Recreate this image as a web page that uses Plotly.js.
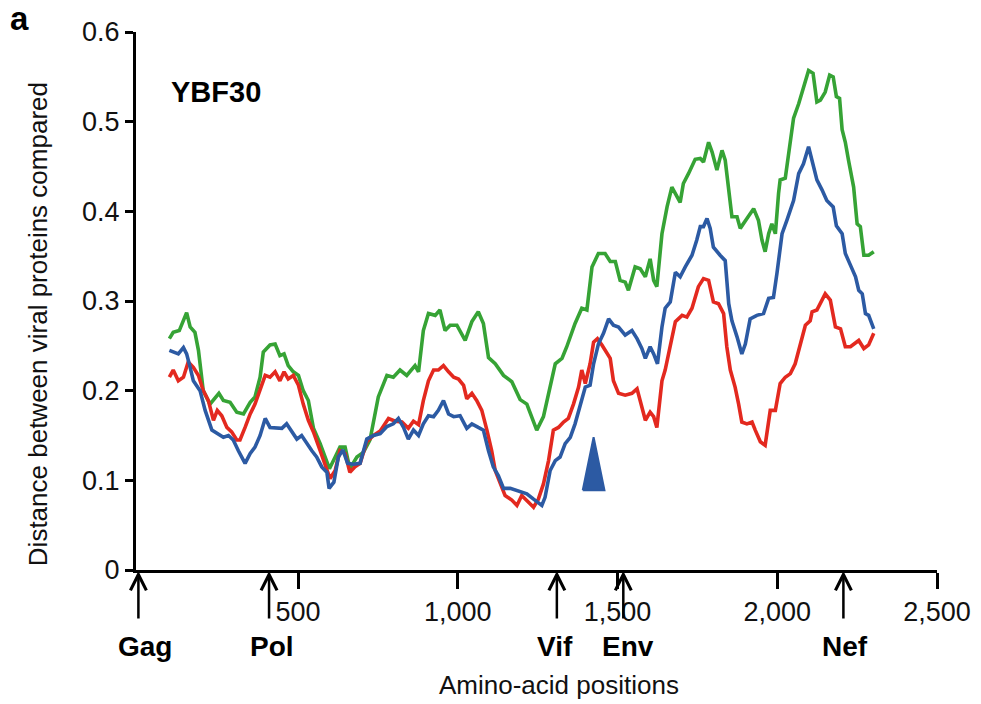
<!DOCTYPE html>
<html>
<head>
<meta charset="utf-8">
<script src="https://cdn.plot.ly/plotly-3.0.1.min.js"></script>
<style>html,body{margin:0;padding:0;background:#fff;}#chart{width:981px;height:704px;}</style>
</head>
<body>
<div id="chart"></div>
<script>
// ---- Data (amino-acid position, distance) ----
const greenX = [97,109,128,151,162,177,188,203,224,252,266,287,308,329,350,365,381,391,412,428,443,456,469,485,501,516,532,548,569,584,598,616,631,647,662,684,704,725,751,778,798,819,840,866,877,892,908,929,944,960,976,997,1023,1044,1064,1080,1096,1117,1143,1169,1195,1216,1232,1247,1268,1289,1305,1326,1341,1367,1388,1404,1420,1440,1461,1477,1493,1508,1524,1534,1555,1571,1587,1602,1613,1623,1639,1655,1670,1696,1706,1722,1743,1759,1769,1785,1796,1811,1827,1837,1848,1858,1874,1884,1905,1926,1941,1952,1962,1973,1983,1994,2004,2009,2025,2041,2051,2067,2082,2098,2112,2124,2135,2150,2164,2175,2185,2195,2203,2213,2223,2239,2250,2260,2271,2286,2302];
const greenY = [0.258,0.265,0.267,0.287,0.271,0.265,0.245,0.200,0.185,0.197,0.189,0.187,0.176,0.174,0.187,0.193,0.215,0.243,0.251,0.252,0.239,0.241,0.228,0.221,0.217,0.200,0.189,0.158,0.141,0.126,0.113,0.126,0.137,0.137,0.113,0.126,0.131,0.145,0.193,0.217,0.215,0.223,0.217,0.228,0.221,0.267,0.286,0.284,0.290,0.267,0.273,0.273,0.256,0.277,0.288,0.275,0.237,0.230,0.217,0.210,0.190,0.185,0.171,0.156,0.171,0.204,0.230,0.236,0.249,0.275,0.292,0.290,0.338,0.353,0.353,0.344,0.344,0.323,0.321,0.312,0.338,0.336,0.327,0.347,0.323,0.316,0.375,0.405,0.427,0.410,0.431,0.442,0.458,0.459,0.455,0.477,0.466,0.446,0.468,0.457,0.420,0.394,0.394,0.381,0.392,0.403,0.390,0.368,0.355,0.375,0.386,0.375,0.420,0.435,0.437,0.479,0.504,0.520,0.539,0.557,0.554,0.522,0.524,0.533,0.552,0.550,0.528,0.526,0.491,0.477,0.457,0.427,0.386,0.383,0.351,0.351,0.355];

const blueX = [97,115,125,141,151,162,172,193,209,230,250,266,282,297,313,334,350,365,381,397,412,433,449,464,480,496,511,527,543,558,574,590,597,612,626,640,655,673,694,715,736,757,778,798,814,830,845,861,877,892,908,924,939,955,971,987,1007,1028,1044,1064,1080,1096,1111,1127,1143,1164,1185,1205,1216,1237,1263,1273,1289,1305,1320,1336,1352,1367,1383,1399,1414,1425,1440,1456,1472,1487,1503,1524,1545,1561,1576,1587,1602,1613,1625,1639,1649,1665,1681,1696,1712,1733,1748,1759,1769,1780,1790,1800,1821,1837,1848,1858,1874,1889,1900,1915,1936,1957,1973,1988,1999,2015,2030,2051,2067,2082,2098,2109,2124,2140,2155,2175,2185,2203,2213,2229,2245,2255,2266,2276,2286,2302];
const blueY = [0.245,0.243,0.241,0.248,0.241,0.226,0.211,0.200,0.178,0.156,0.152,0.148,0.150,0.145,0.133,0.119,0.130,0.137,0.150,0.169,0.159,0.159,0.158,0.163,0.154,0.146,0.150,0.141,0.133,0.126,0.115,0.109,0.091,0.098,0.126,0.134,0.119,0.118,0.119,0.146,0.150,0.152,0.160,0.163,0.169,0.159,0.146,0.156,0.150,0.163,0.172,0.171,0.178,0.189,0.174,0.171,0.172,0.158,0.163,0.159,0.156,0.133,0.115,0.105,0.091,0.091,0.089,0.087,0.085,0.079,0.072,0.081,0.111,0.122,0.126,0.141,0.148,0.163,0.185,0.204,0.206,0.230,0.252,0.264,0.280,0.273,0.271,0.262,0.267,0.258,0.247,0.236,0.249,0.241,0.230,0.271,0.292,0.299,0.332,0.327,0.338,0.351,0.368,0.383,0.383,0.392,0.381,0.360,0.351,0.345,0.297,0.278,0.260,0.241,0.252,0.280,0.284,0.286,0.303,0.304,0.331,0.375,0.390,0.412,0.442,0.453,0.472,0.457,0.435,0.424,0.412,0.405,0.384,0.375,0.353,0.340,0.327,0.312,0.308,0.286,0.284,0.269];

const redX = [97,109,125,141,156,172,188,203,219,235,247,261,277,292,308,318,334,350,365,381,397,412,428,443,456,469,485,501,516,532,548,569,584,600,616,631,647,662,678,694,715,736,757,783,804,825,845,861,877,892,908,924,939,955,971,987,1002,1018,1028,1044,1059,1075,1091,1106,1117,1132,1148,1169,1185,1200,1216,1237,1252,1268,1284,1299,1315,1331,1346,1362,1378,1388,1399,1414,1425,1437,1451,1467,1477,1487,1503,1524,1545,1561,1573,1587,1602,1613,1623,1639,1649,1665,1681,1702,1717,1733,1753,1769,1785,1800,1816,1832,1842,1853,1868,1879,1889,1905,1921,1931,1947,1962,1978,1994,2009,2025,2041,2056,2072,2088,2103,2109,2124,2140,2150,2166,2182,2198,2213,2229,2239,2255,2271,2286,2302];
const redY = [0.215,0.223,0.211,0.215,0.232,0.226,0.217,0.200,0.189,0.167,0.178,0.172,0.159,0.154,0.145,0.145,0.159,0.174,0.185,0.200,0.217,0.215,0.221,0.211,0.221,0.213,0.217,0.206,0.185,0.167,0.154,0.133,0.119,0.102,0.111,0.133,0.130,0.109,0.115,0.119,0.143,0.150,0.155,0.169,0.166,0.165,0.158,0.166,0.162,0.189,0.211,0.223,0.223,0.228,0.221,0.215,0.213,0.206,0.191,0.197,0.189,0.178,0.156,0.133,0.111,0.098,0.083,0.078,0.072,0.083,0.077,0.070,0.079,0.096,0.122,0.156,0.159,0.165,0.169,0.185,0.204,0.223,0.208,0.230,0.254,0.258,0.251,0.241,0.236,0.211,0.197,0.195,0.197,0.202,0.185,0.167,0.176,0.171,0.159,0.211,0.223,0.252,0.277,0.284,0.282,0.292,0.316,0.325,0.323,0.299,0.297,0.286,0.249,0.223,0.204,0.185,0.165,0.163,0.165,0.156,0.143,0.139,0.178,0.178,0.208,0.215,0.219,0.230,0.252,0.273,0.278,0.288,0.290,0.301,0.308,0.301,0.271,0.269,0.249,0.249,0.252,0.256,0.247,0.251,0.264];

// Gene start positions marked with arrows
const geneNames = ["Gag","Pol","Vif","Env","Nef"];
const geneStarts = [0, 409, 1310, 1518, 2207];
const geneLabelX = [21, 418, 1305, 1533, 2213];

// Axis ticks and titles
const xTickVals = [500,1000,1500,2000,2500];
const xTickText = ["500","1,000","1,500","2,000","2,500"];
const yTickVals = [0,0.1,0.2,0.3,0.4,0.5,0.6];
const yTickText = ["0","0.1","0.2","0.3","0.4","0.5","0.6"];
const xTitle = "Amino-acid positions";
const yTitle = "Distance between viral proteins compared";

// Breakpoint marker (blue wedge)
const markerX = 1425;
const markerHalfWidth = 34;
const markerTop = 0.148;
const markerBase = 0.089;

const FONT = "Liberation Sans, Arial, Helvetica, sans-serif";
const GREEN = "#36a335", RED = "#e3291f", BLUE = "#2c5aa3";

const traces = [
  {x: greenX, y: greenY, type: "scatter", mode: "lines", line: {color: GREEN, width: 3.6}, hoverinfo: "skip"},
  {x: redX, y: redY, type: "scatter", mode: "lines", line: {color: RED, width: 3.6}, hoverinfo: "skip"},
  {x: blueX, y: blueY, type: "scatter", mode: "lines", line: {color: BLUE, width: 3.6}, hoverinfo: "skip"},
  {x: [markerX - markerHalfWidth, markerX, markerX + markerHalfWidth, markerX - markerHalfWidth],
   y: [markerBase, markerTop, markerBase, markerBase],
   type: "scatter", mode: "lines", fill: "toself", fillcolor: BLUE,
   line: {color: BLUE, width: 2, shape: "linear"}, hoverinfo: "skip"}
];

const annotations = [];
geneNames.forEach((g, i) => {
  annotations.push({x: geneStarts[i], y: 0, xref: "x", yref: "y", text: "", showarrow: true,
    ax: 0, ay: 50, arrowhead: 5, arrowsize: 1.25, arrowwidth: 2.5, arrowcolor: "#000", standoff: 1});
  annotations.push({x: geneLabelX[i], y: -0.143, xref: "x", yref: "paper", text: "<b>" + g + "</b>",
    showarrow: false, xanchor: "center", yanchor: "middle", font: {family: FONT, size: 28, color: "#000"}});
});
annotations.push({x: -0.146, y: 1.026, xref: "paper", yref: "paper", text: "<b>a</b>", showarrow: false,
  xanchor: "center", yanchor: "middle", font: {family: FONT, size: 33, color: "#000"}});
annotations.push({x: 0.041, y: 0.888, xref: "paper", yref: "paper", text: "<b>YBF30</b>", showarrow: false,
  xanchor: "left", yanchor: "middle", font: {family: FONT, size: 29, color: "#000"}});
// Axis titles (placed as in the reference, slightly off-centre)
annotations.push({x: 0.528, y: -0.214, xref: "paper", yref: "paper", text: xTitle, showarrow: false,
  xanchor: "center", yanchor: "middle", font: {family: FONT, size: 26, color: "#111"}});
annotations.push({x: -0.1223, y: 0.457, xref: "paper", yref: "paper", text: yTitle, showarrow: false,
  textangle: -90, xanchor: "center", yanchor: "middle", font: {family: FONT, size: 26, color: "#111"}});

const layout = {
  width: 981, height: 704,
  margin: {l: 136, r: 44, t: 32, b: 134},
  paper_bgcolor: "#fff", plot_bgcolor: "#fff",
  showlegend: false,
  font: {family: FONT, color: "#000"},
  xaxis: {
    range: [-7.5, 2500], showgrid: false, zeroline: false,
    showline: true, linecolor: "#000", linewidth: 3,
    ticks: "outside", ticklen: 16, tickwidth: 3, tickcolor: "#000",
    tickvals: xTickVals, ticktext: xTickText,
    tickfont: {family: FONT, size: 27, color: "#111"}
  },
  yaxis: {
    range: [0, 0.6], showgrid: false, zeroline: false,
    showline: true, linecolor: "#000", linewidth: 3,
    ticks: "outside", ticklen: 8, tickwidth: 3, tickcolor: "#000",
    tickvals: yTickVals, ticktext: yTickText,
    tickfont: {family: FONT, size: 27, color: "#111"}
  },
  annotations: annotations
};

Plotly.newPlot("chart", traces, layout, {displayModeBar: false, staticPlot: true});
</script>
</body>
</html>
